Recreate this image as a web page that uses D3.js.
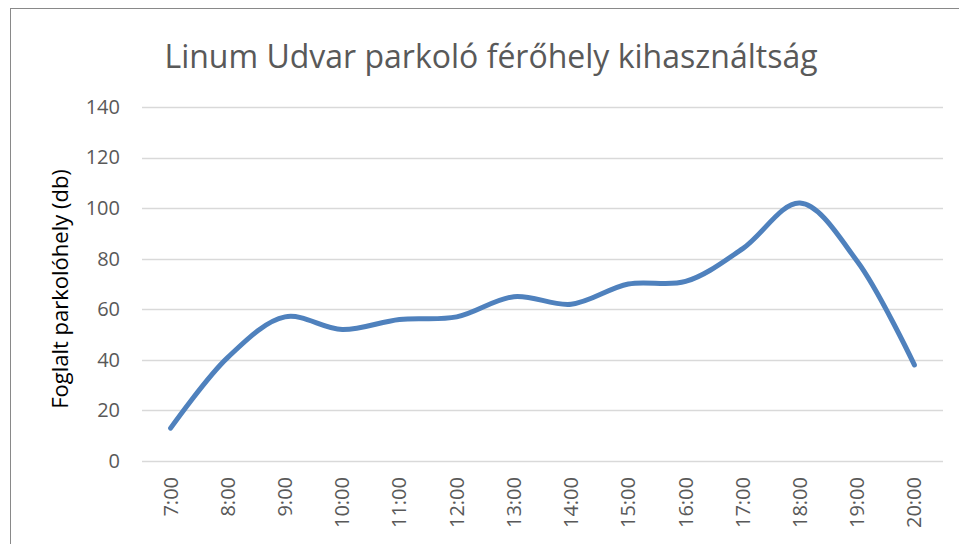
<!DOCTYPE html>
<html>
<head>
<meta charset="utf-8">
<script src="https://cdn.jsdelivr.net/npm/d3@7"></script>
<style>
  body { margin: 0; background: #fff; }
  svg { display: block; font-family: "Open Sans", "Liberation Sans", sans-serif; }
</style>
</head>
<body>
<div id="chart"></div>
<script>
var width = 959, height = 544;

// data
var hours = ["7:00", "8:00", "9:00", "10:00", "11:00", "12:00", "13:00",
    "14:00", "15:00", "16:00", "17:00", "18:00", "19:00", "20:00"];
var occupied = [13, 41, 57, 52, 56, 57, 65, 62, 70, 71, 84, 102, 79, 38];
var yTicks = [0, 20, 40, 60, 80, 100, 120, 140];

var margin = { top: 107, right: 16, bottom: 83, left: 142 };

var svg = d3.select("#chart")
  .append("svg")
    .attr("width", width)
    .attr("height", height);

svg.append("rect")
  .attr("x", 10.5)
  .attr("y", 8.5)
  .attr("width", width)
  .attr("height", height)
  .attr("fill", "white")
  .attr("stroke", "#898989")
  .attr("stroke-width", 1);

var x = d3.scaleBand()
  .domain(hours)
  .range([margin.left, width - margin.right]);

var y = d3.scaleLinear()
  .domain([0, 140])
  .range([height - margin.bottom, margin.top]);

// gridlines
svg.append("g")
  .selectAll("line")
  .data(yTicks)
  .enter()
  .append("line")
    .attr("x1", margin.left)
    .attr("x2", width - margin.right)
    .attr("y1", function(d) { return Math.round(y(d)) + 0.5; })
    .attr("y2", function(d) { return Math.round(y(d)) + 0.5; })
    .attr("stroke", "#d9d9d9")
    .attr("stroke-width", 1.5);

// y axis labels
var yAxis = d3.axisLeft(y).tickValues(yTicks).tickSize(0).tickPadding(22);
svg.append("g")
  .attr("transform", "translate(" + margin.left + ",0)")
  .call(yAxis)
  .attr("font-family", null)
  .call(function(g) { g.select(".domain").remove(); })
  .selectAll("text")
    .attr("font-size", 20)
    .attr("fill", "#595959");

// x axis labels, rotated
var xAxis = d3.axisBottom(x).tickSize(0);
svg.append("g")
  .attr("transform", "translate(0," + (height - margin.bottom) + ")")
  .call(xAxis)
  .attr("font-family", null)
  .call(function(g) { g.select(".domain").remove(); })
  .selectAll("text")
    .attr("font-size", 20)
    .attr("fill", "#595959")
    .attr("transform", "rotate(-90)")
    .attr("text-anchor", "end")
    .attr("x", -16)
    .attr("y", 0)
    .attr("dy", "0.35em");

// the line
var line = d3.line()
  .x(function(d, i) { return x(hours[i]) + x.bandwidth() / 2; })
  .y(function(d) { return y(d); })
  .curve(d3.curveCatmullRom.alpha(0.5));

svg.append("path")
  .datum(occupied)
  .attr("d", line)
  .attr("fill", "none")
  .attr("stroke", "#4f81bd")
  .attr("stroke-width", 5)
  .attr("stroke-linecap", "round")
  .attr("stroke-linejoin", "round");

// title
svg.append("text")
  .attr("x", 491)
  .attr("y", 68)
  .attr("text-anchor", "middle")
  .attr("font-size", 32)
  .attr("fill", "#595959")
  .text("Linum Udvar parkoló férőhely kihasználtság");

// y axis title
svg.append("text")
  .attr("transform", "translate(68,289) rotate(-90)")
  .attr("text-anchor", "middle")
  .attr("font-size", 22)
  .attr("fill", "#000")
  .text("Foglalt parkolóhely (db)");
</script>
</body>
</html>
